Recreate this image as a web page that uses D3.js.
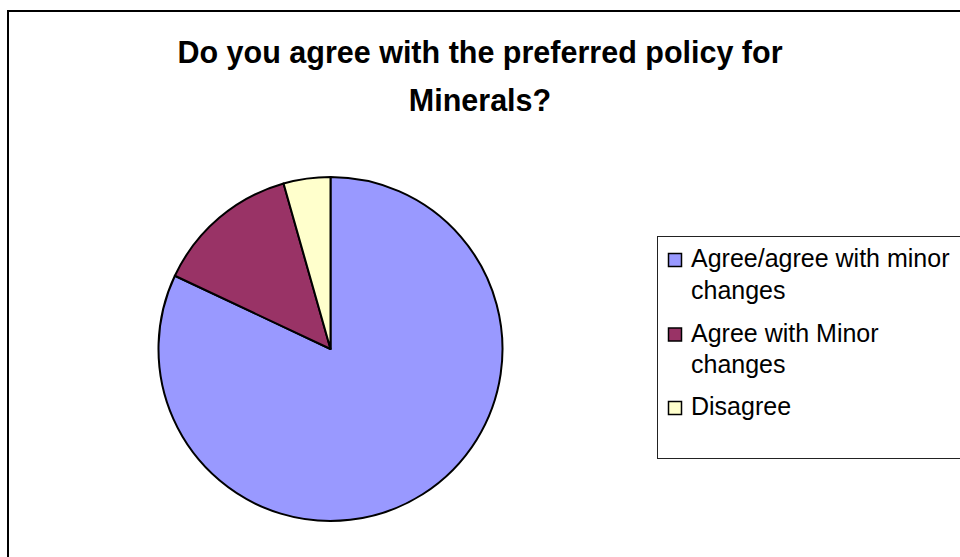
<!DOCTYPE html>
<html lang="en">
<head>
  <meta charset="UTF-8">
  <title>Minerals policy pie</title>
  <style>
    body { margin: 0; background: #fff; }
    svg { display: block; font-family: "Liberation Sans", Arial, sans-serif; }
    .title { font-weight: bold; font-size: 30.5px; fill: #000; text-anchor: middle; }
    .legend text { font-size: 25px; fill: #000; }
  </style>
</head>
<body>
  <div id="chart"></div>
  <script src="https://cdn.jsdelivr.net/npm/d3@7"></script>
  <script>
    // data (share of answers, %)
    const categories = ["Agree/agree with minor changes", "Agree with Minor changes", "Disagree"];
    const values = [82.0, 13.6, 4.4];
    const colours = ["#9999ff", "#993366", "#ffffcc"];
    const titleLines = ["Do you agree with the preferred policy for", "Minerals?"];

    const width = 960, height = 557;
    const svg = d3.select("#chart").append("svg")
      .attr("width", width)
      .attr("height", height);

    // outer frame, runs off the right and bottom edge
    svg.append("rect")
      .attr("x", 8).attr("y", 11)
      .attr("width", 980).attr("height", 600)
      .attr("fill", "none")
      .attr("stroke", "#000")
      .attr("stroke-width", 2);

    // title
    svg.append("g").selectAll("text")
      .data(titleLines)
      .enter().append("text")
      .attr("class", "title")
      .attr("x", 480)
      .attr("y", (d, i) => 63 + i * 47.5)
      .text(d => d);

    // pie
    const radius = 172;
    const pie = d3.pie().sort(null).value(d => d);
    const arc = d3.arc().innerRadius(0).outerRadius(radius);
    const color = d3.scaleOrdinal().domain(categories).range(colours);

    const g = svg.append("g").attr("transform", "translate(330.5,349)");
    g.selectAll("path")
      .data(pie(values))
      .enter().append("path")
      .attr("d", arc)
      .attr("fill", (d, i) => color(categories[i]))
      .attr("stroke", "#000")
      .attr("stroke-width", 2)
      .attr("stroke-linejoin", "round");

    // legend box
    const legend = svg.append("g").attr("class", "legend");
    legend.append("rect")
      .attr("x", 657.5).attr("y", 236.5)
      .attr("width", 320).attr("height", 222)
      .attr("fill", "#fff")
      .attr("stroke", "#222")
      .attr("stroke-width", 1);

    const itemY = [267, 341.5, 415]; // baselines of first line
    const lineGap = 31.5;
    const maxW = 266;

    categories.forEach(function (c, i) {
      legend.append("rect")
        .attr("x", 668.5).attr("y", itemY[i] - 13.5)
        .attr("width", 13).attr("height", 13)
        .attr("fill", color(c))
        .attr("stroke", "#000")
        .attr("stroke-width", 1.5);

      // simple word wrap
      const t = legend.append("text").attr("x", 691).attr("y", itemY[i]);
      const words = c.split(" ");
      let line = [], n = 0;
      let ts = t.append("tspan").attr("x", 691).attr("y", itemY[i]);
      words.forEach(function (w) {
        line.push(w);
        ts.text(line.join(" "));
        if (ts.node().getComputedTextLength() > maxW && line.length > 1) {
          line.pop();
          ts.text(line.join(" "));
          line = [w];
          n++;
          ts = t.append("tspan").attr("x", 691).attr("y", itemY[i] + n * lineGap).text(w);
        }
      });
    });
  </script>
</body>
</html>
